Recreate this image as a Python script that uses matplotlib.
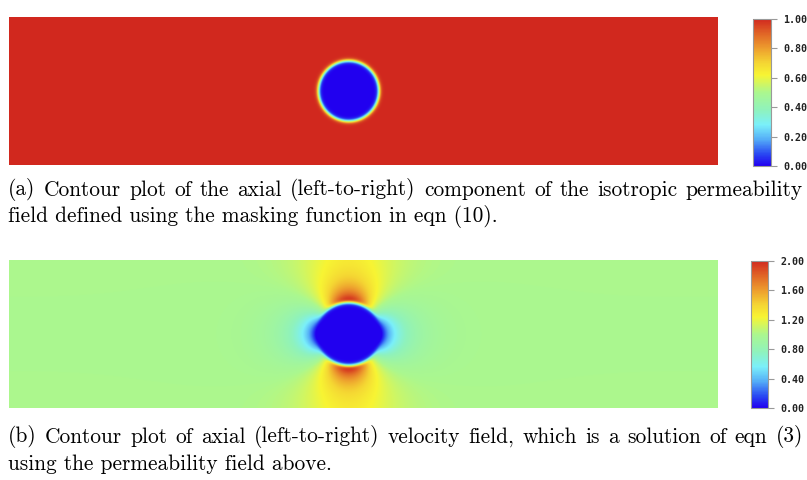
import numpy as np
import matplotlib
matplotlib.use('Agg')
import matplotlib.pyplot as plt
from matplotlib.colors import LinearSegmentedColormap

# domaine (canal) et cylindre
domaine_x = [0.0, 24.0]
domaine_y = [0.0, 5.0]
centre = [11.5, 2.5]
rayon_masque = 1.03
largeur_masque = 0.07
rayon_vitesse = 1.08
largeur_vitesse = 0.07
doublet = 0.855         # doublet local (fenetre gaussienne)
portee_doublet = 3.0
blocage = 0.586         # doublet + images dans le canal
vitesse_amont = 1.0

ticks_a = [0.0, 0.2, 0.4, 0.6, 0.8, 1.0]
ticks_b = [0.0, 0.4, 0.8, 1.2, 1.6, 2.0]
lim_a = [0.0, 1.0]
lim_b = [0.0, 2.0]

legende_a = ["(a) Contour plot of the axial (left-to-right) component of the isotropic permeability",
             "field defined using the masking function in eqn (10)."]
legende_b = ["(b) Contour plot of axial (left-to-right) velocity field, which is a solution of eqn (3)",
             "using the permeability field above."]

## palette
pos = [0.00, 0.08, 0.18, 0.28, 0.38, 0.50, 0.62, 0.70, 0.80, 0.90, 1.00]
couleurs = [(0.13, 0.00, 0.94), (0.16, 0.28, 0.95), (0.33, 0.68, 0.97),
            (0.48, 0.94, 0.98), (0.56, 0.95, 0.74),
            (0.67, 0.97, 0.56), (0.97, 0.96, 0.20), (0.96, 0.84, 0.20),
            (0.93, 0.62, 0.18), (0.88, 0.40, 0.15), (0.82, 0.16, 0.12)]
cmap = LinearSegmentedColormap.from_list('arc', list(zip(pos, couleurs)))

## champs
nx, ny = 1400, 300
x = np.linspace(domaine_x[0], domaine_x[1], nx)
y = np.linspace(domaine_y[0], domaine_y[1], ny)
X, Y = np.meshgrid(x, y)
H = domaine_y[1] - domaine_y[0]
z = (X - centre[0]) + 1j * (Y - centre[1])
r = np.abs(z)

masque = 0.5 * (1 + np.tanh((r - rayon_masque) / largeur_masque))

zs = np.where(r < 0.3, 0.3 + 0j, z)
canal = np.real((np.pi / H) ** 2 / np.sinh(np.pi * zs / H) ** 2)
local = np.real(1 / zs ** 2) * np.exp(-(r / portee_doublet) ** 2)
u_pot = vitesse_amont * (1 - blocage * canal - doublet * local)
chi_v = 0.5 * (1 + np.tanh((r - rayon_vitesse) / largeur_vitesse))
u = np.where(r < 0.6, 0.0, u_pot * chi_v)
u = np.clip(u, 0, 2)

fig = plt.figure(figsize=(8.07, 4.8), dpi=100)

def panneau(champ, rect_champ, rect_barre, lim, ticks):
    ax = fig.add_axes(rect_champ)
    im = ax.imshow(champ, origin='lower', cmap=cmap, vmin=lim[0], vmax=lim[1],
                   extent=domaine_x + domaine_y, aspect='auto', interpolation='bilinear')
    ax.axis('off')
    cax = fig.add_axes(rect_barre)
    cb = fig.colorbar(im, cax=cax, ticks=ticks)
    cb.outline.set_edgecolor('#999999')
    cb.outline.set_linewidth(0.8)
    cax.tick_params(length=4, width=0.8, color='#999999', pad=5)
    cax.set_yticklabels(['%.2f' % t for t in ticks], family='DejaVu Sans Mono',
                        fontsize=7.2, fontweight='bold', color='#222222')
    return ax

panneau(masque, [9/807, 1 - 165/480, 709/807, 148/480],
        [753/807, 1 - 166/480, 18/807, 147/480], lim_a, ticks_a)
panneau(u, [9/807, 1 - 408/480, 709/807, 148/480],
        [751/807, 1 - 408/480, 17/807, 147/480], lim_b, ticks_b)

## legendes : premiere ligne justifiee (comme en LaTeX)
taille = 15.4
renderer = fig.canvas.get_renderer()

def ligne_justifiee(texte, y_px, x0=8, x1=803):
    mots = texte.split(' ')
    objets = [fig.text(0, 1 - y_px / 480, m, family='cmr10', fontsize=taille,
                       va='center', ha='left') for m in mots]
    largeurs = [o.get_window_extent(renderer).width for o in objets]
    espace = (x1 - x0 - sum(largeurs)) / (len(mots) - 1)
    xc = x0
    for o, w in zip(objets, largeurs):
        o.set_x(xc / 807)
        xc += w + espace

def ligne_libre(texte, y_px, x0=8):
    fig.text(x0 / 807, 1 - y_px / 480, texte, family='cmr10', fontsize=taille,
             va='center', ha='left')

ligne_justifiee(legende_a[0], 190)
ligne_libre(legende_a[1], 217)
ligne_justifiee(legende_b[0], 437)
ligne_libre(legende_b[1], 464)

fig.savefig('out.png', dpi=100)
